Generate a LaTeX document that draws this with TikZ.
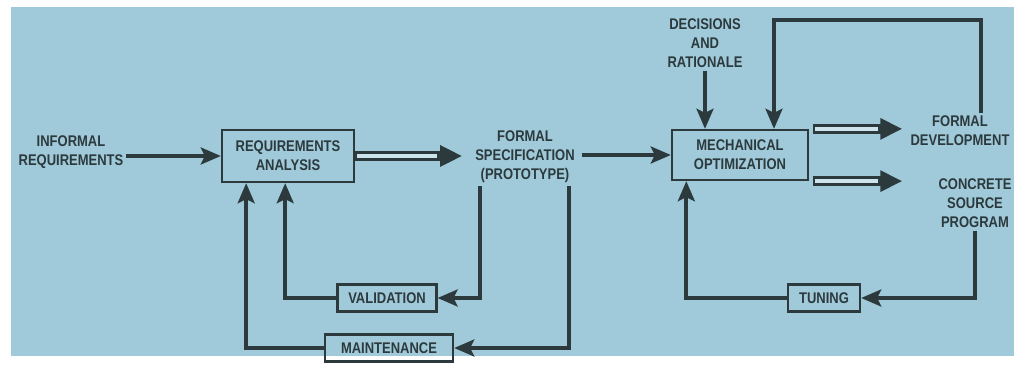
\documentclass[tikz,border=0pt]{standalone}
\usepackage{fontspec}
\setmainfont{Liberation Sans}[FakeStretch=0.84]
\usetikzlibrary{arrows.meta}

\definecolor{bgblue}{RGB}{160,202,217}
\definecolor{ink}{RGB}{44,58,62}
\definecolor{shaft}{RGB}{205,228,236}

\tikzset{
  label/.style={align=center, text=ink, font=\bfseries\fontsize{11}{13.5}\selectfont, inner sep=2pt},
  box/.style={label, draw=ink, line width=1.6pt},
  flow/.style={draw=ink, line width=2.9pt, -{Stealth[length=0.5cm,width=0.42cm,inset=0.1cm]}},
  hollow/.style={draw=ink, line width=7pt, -{Triangle[length=0.55cm,width=0.5cm]},
    postaction={draw=shaft, line width=2.6pt, -, shorten >=0.62cm, shorten <=1.2pt}}
}

\begin{document}
\begin{tikzpicture}[x=0.025cm,y=-0.025cm]
\useasboundingbox (0,0) rectangle (1014,367);
\fill[white] (0,0) rectangle (1014,367);
\fill[bgblue] (11,7) rectangle (1014,356);

% nodes
\node[label] (informal) at (71,152) {INFORMAL\\REQUIREMENTS};
\node[box, minimum width=3.3cm, minimum height=1.3cm] (ra) at (288,156) {REQUIREMENTS\\ANALYSIS};
\node[label] (spec) at (525,157) {FORMAL\\SPECIFICATION\\(PROTOTYPE)};
\node[box, minimum width=3.4cm, minimum height=1.25cm] (mo) at (740,155) {MECHANICAL\\OPTIMIZATION};
\node[label] (decisions) at (705,43) {DECISIONS\\AND\\RATIONALE};
\node[label] (fd) at (960,131) {FORMAL\\DEVELOPMENT};
\node[label] (cs) at (975,203) {CONCRETE\\SOURCE\\PROGRAM};
\node[box, minimum width=2.47cm, minimum height=0.67cm] (val) at (387,298) {VALIDATION};
\node[box, minimum width=3.2cm, minimum height=0.67cm] (maint) at (389,348) {MAINTENANCE};
\node[box, minimum width=1.8cm, minimum height=0.67cm] (tuning) at (824,298) {TUNING};
\coordinate (top) at (774,20);

% forward path
\draw[flow] (informal.east |- ra.west) -- (ra.west);
\draw[hollow] (ra.east) -- ([xshift=-0.25cm]spec.west |- ra.east);
\draw[flow] ([xshift=0.1cm]spec.east |- mo.west) -- (mo.west);
\draw[flow] (decisions.south) -- (decisions.south |- mo.north);
\draw[hollow] ([xshift=3]mo.north east) -- ++(89,0);
\draw[hollow] ([xshift=3]mo.south east) -- ++(89,0);

% feedback loops
\draw[flow] ([xshift=15]fd.north) |- (top) -- (top |- mo.north);
\draw[flow] (cs.south) |- (tuning.east);
\draw[flow] (tuning.west) -| ([xshift=11]mo.south west);
\draw[flow] ([xshift=-32]spec.south) |- (val.east);
\draw[flow] (val.west) -| ([xshift=-2]ra.south);
\draw[flow] ([xshift=31]spec.south) |- (maint.east);
\draw[flow] (maint.west) -| ([xshift=18]ra.south west);

\end{tikzpicture}
\end{document}
